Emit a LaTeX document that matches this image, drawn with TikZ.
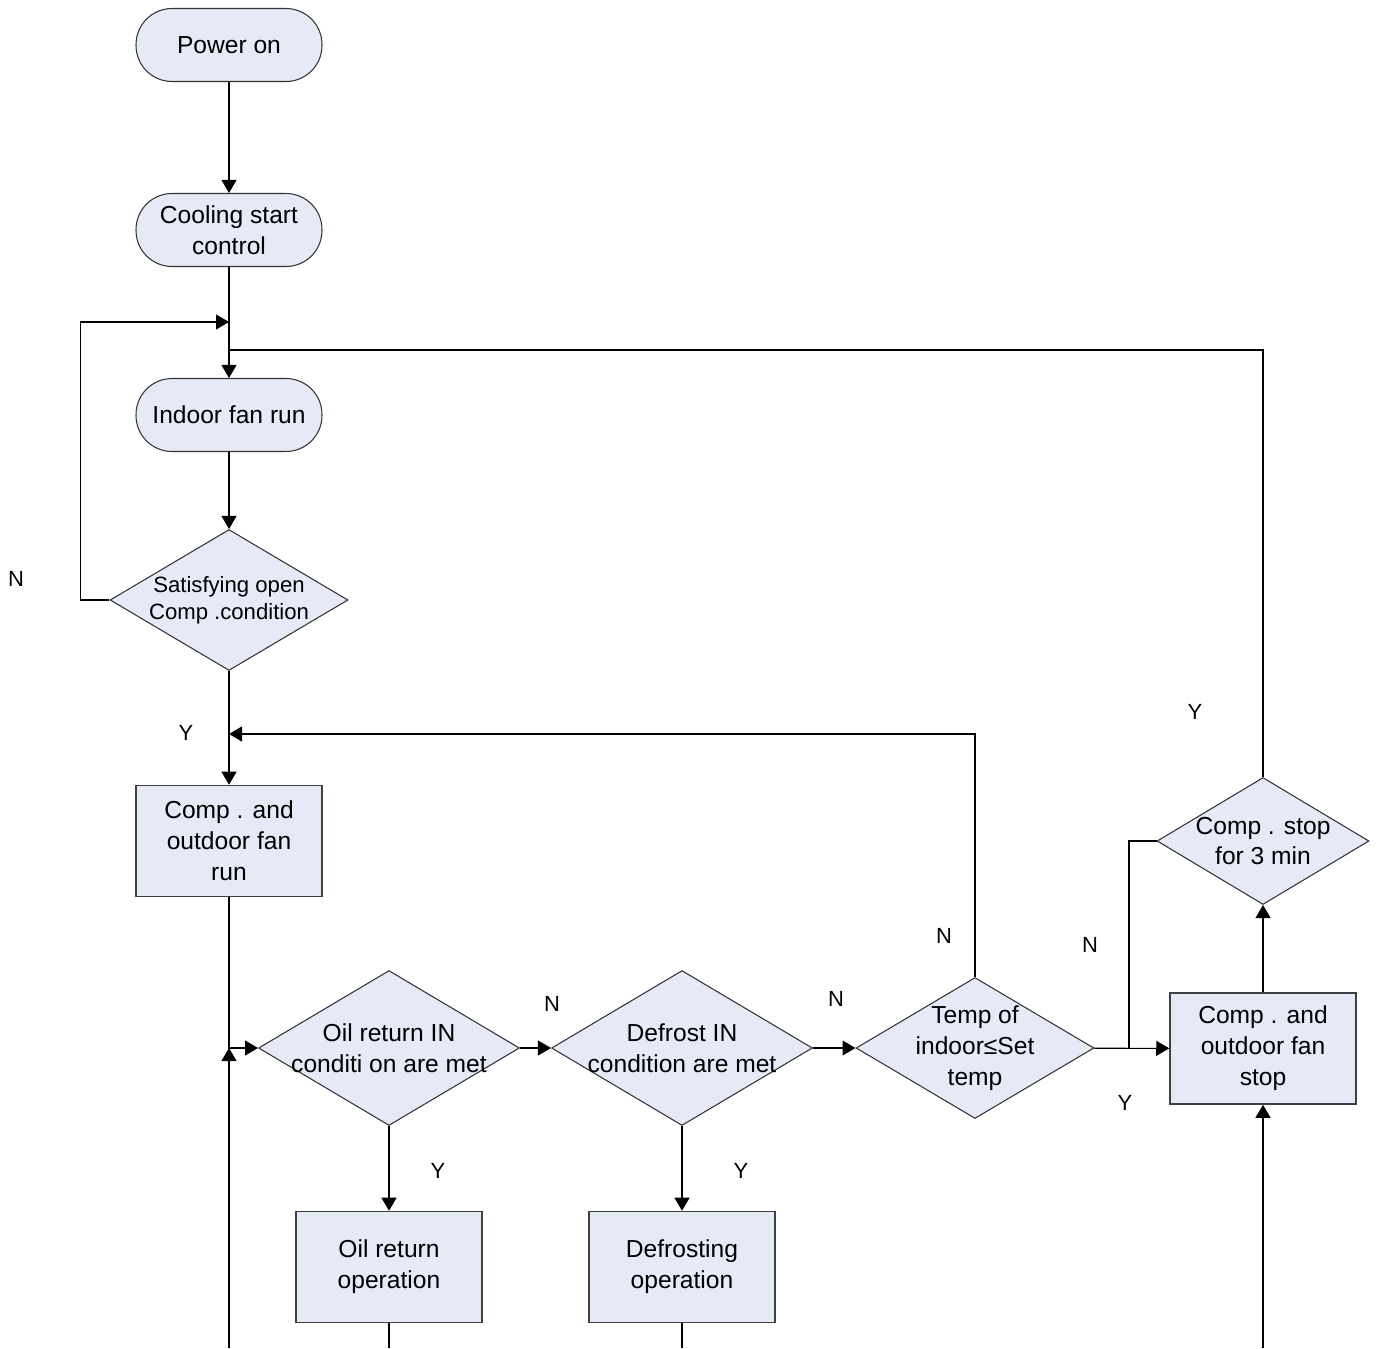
\documentclass[tikz,border=0pt]{standalone}
\usepackage{xcolor}
\usepackage{tikz}
\usepackage{fontspec}
\setmainfont{Liberation Sans}
\usetikzlibrary{shapes.geometric,arrows.meta}

\definecolor{boxfill}{RGB}{230,233,246}

\begin{document}
\begin{tikzpicture}[x=0.02cm,y=-0.02cm,line width=0.6pt,
	term/.style={draw=black!80,fill=boxfill,rounded corners=0.72cm,minimum width=3.72cm,minimum height=1.46cm,inner sep=0pt,align=center,font=\fontsize{14}{17.6}\selectfont},
	proc/.style={draw=black!75,line width=0.9pt,fill=boxfill,minimum width=3.72cm,minimum height=2.22cm,inner sep=0pt,align=center,font=\fontsize{14}{17.6}\selectfont},
	dia/.style={draw=black!80,fill=boxfill,diamond,inner sep=0pt},
	dtxt/.style={align=center,font=\fontsize{14}{17.6}\selectfont},
	dtxts/.style={align=center,font=\fontsize{12.6}{15.3}\selectfont},
	yn/.style={font=\fontsize{12.5}{15}\selectfont},
	arr/.style={-{Triangle[length=0.26cm,width=0.3cm]}}]
	\useasboundingbox (0,0) rectangle (1378,1348);

	% main column
	\node[term] (pwr) at (229,45) {Power on};
	\node[term] (cool) at (229,230) {Cooling start\\control};
	\node[term] (fan) at (229,415) {Indoor fan run};
	\node[dia,minimum width=4.76cm,minimum height=2.82cm,label={[dtxts]center:Satisfying open\\Comp .condition}] (sat) at (229,600) {};
	\node[proc] (run) at (229,841) {Comp . and\\outdoor fan\\run};

	% checks along the bottom row
	\node[dia,minimum width=5.22cm,minimum height=3.1cm,label={[dtxt]center:Oil return IN\\conditi on are met}] (oil) at (389,1048) {};
	\node[dia,minimum width=5.22cm,minimum height=3.1cm,label={[dtxt]center:Defrost IN\\condition are met}] (dfr) at (682,1048) {};
	\node[dia,minimum width=4.76cm,minimum height=2.82cm,label={[dtxt]center:Temp of\\indoor≤Set\\temp}] (tmp) at (975,1048) {};
	\node[proc] (stp) at (1263,1048.5) {Comp . and\\outdoor fan\\stop};
	\node[dia,minimum width=4.24cm,minimum height=2.54cm,label={[dtxt]center:Comp . stop\\for 3 min}] (wait) at (1263,841) {};
	\node[proc] (oilop) at (389,1267) {Oil return\\operation};
	\node[proc] (dfrop) at (682,1267) {Defrosting\\operation};

	% joints and cut-off ends
	\coordinate (jn) at (229,322);
	\coordinate (jy) at (229,350);
	\coordinate (jr) at (229,734);
	\coordinate (jo) at (229,1048);
	\coordinate (jw) at (1129,1048);
	\coordinate (b1) at (229,1348);
	\coordinate (b2) at (389,1348);
	\coordinate (b3) at (682,1348);
	\coordinate (b4) at (1263,1348);

	\draw[arr] (pwr) -- (cool);
	\draw[arr] (cool) -- (fan);
	\draw[arr] (fan) -- (sat);
	\draw[arr] (sat.west) -- ++(-29,0) |- (jn);
	\draw (wait.north) |- (jy);
	\draw[arr] (sat) -- (run);
	\draw[arr] (tmp.north) |- (jr);
	\draw (run) -- (b1);
	\draw[arr] (b1) -- (jo);
	\draw[arr] (jo) -- (oil.west);
	\draw[arr] (oil) -- (dfr);
	\draw[arr] (dfr) -- (tmp);
	\draw[arr] (tmp) -- (stp);
	\draw (wait.west) -| (jw);
	\draw[arr] (stp) -- (wait);
	\draw[arr] (b4) -- (stp);
	\draw[arr] (oil) -- (oilop);
	\draw[arr] (dfr) -- (dfrop);
	\draw (oilop) -- (b2);
	\draw (dfrop) -- (b3);

	% Y / N marks
	\node[yn] (n1) at (16,579) {N};
	\node[yn] (y1) at (186,733) {Y};
	\node[yn] (y2) at (1195,712) {Y};
	\node[yn] (n2) at (944,936) {N};
	\node[yn] (n3) at (1090,945) {N};
	\node[yn] (n4) at (552,1004) {N};
	\node[yn] (n5) at (836,999) {N};
	\node[yn] (y3) at (1125,1103) {Y};
	\node[yn] (y4) at (438,1171) {Y};
	\node[yn] (y5) at (741,1171) {Y};
\end{tikzpicture}
\end{document}
